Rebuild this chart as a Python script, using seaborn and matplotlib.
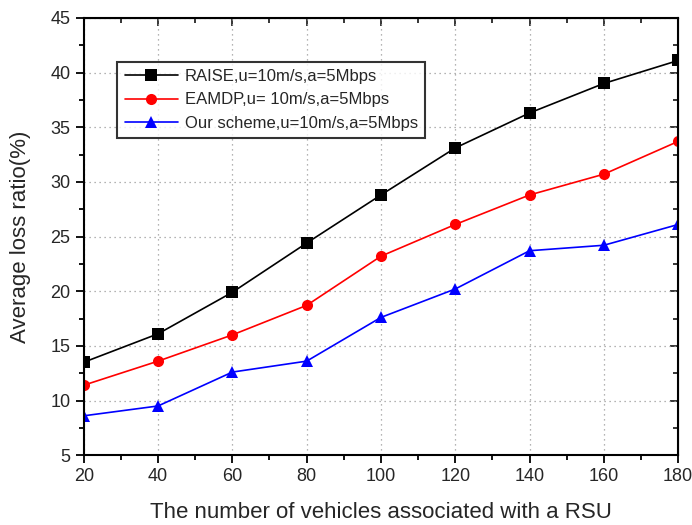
import matplotlib
matplotlib.use("Agg")
import matplotlib.pyplot as plt
from matplotlib.ticker import MultipleLocator
import seaborn as sns
import pandas as pd

vehicles = [20, 40, 60, 80, 100, 120, 140, 160, 180]
raise_loss = [13.5, 16.1, 19.9, 24.4, 28.8, 33.1, 36.3, 39.0, 41.1]
eamdp_loss = [11.4, 13.6, 16.0, 18.7, 23.2, 26.1, 28.8, 30.7, 33.7]
ours_loss = [8.6, 9.5, 12.6, 13.6, 17.6, 20.2, 23.7, 24.2, 26.1]

labels = ["RAISE,u=10m/s,a=5Mbps",
          "EAMDP,u= 10m/s,a=5Mbps",
          "Our scheme,u=10m/s,a=5Mbps"]
colors = ["#000000", "#ff0000", "#0000ff"]
markers = ["s", "o", "^"]

df = pd.concat([
    pd.DataFrame({"x": vehicles, "y": vals, "scheme": lab})
    for vals, lab in zip([raise_loss, eamdp_loss, ours_loss], labels)
])

sns.set_style("ticks")
plt.rcParams["font.family"] = ["Liberation Sans", "DejaVu Sans"]

fig = plt.figure(figsize=(6.92, 5.25), dpi=100)
ax = fig.add_axes([0.121, 0.133, 0.859, 0.833])

sns.lineplot(data=df, x="x", y="y", hue="scheme", style="scheme",
             palette=dict(zip(labels, colors)),
             markers=dict(zip(labels, markers)),
             dashes=False, markersize=8, linewidth=1.2,
             markeredgewidth=0, ax=ax)

ax.set_xlim(20, 180)
ax.set_ylim(5, 45)
ax.xaxis.set_major_locator(MultipleLocator(20))
ax.xaxis.set_minor_locator(MultipleLocator(10))
ax.yaxis.set_major_locator(MultipleLocator(5))
ax.yaxis.set_minor_locator(MultipleLocator(2.5))

ax.grid(True, which="major", color="#9a9a9a", linestyle=(0, (1, 3)), linewidth=0.9)
ax.set_axisbelow(True)

for sp in ax.spines.values():
    sp.set_visible(True)
    sp.set_linewidth(1.5)
    sp.set_color("black")

ax.tick_params(which="both", direction="out", top=False, right=False,
               labelsize=13, width=1.3, color="black")
ax.tick_params(which="major", length=6)
ax.tick_params(which="minor", length=3.5)

# inward ticks on the top and right edges
ax_top = ax.secondary_xaxis("top")
ax_top.xaxis.set_major_locator(MultipleLocator(20))
ax_top.xaxis.set_minor_locator(MultipleLocator(10))
ax_top.tick_params(which="both", direction="in", labeltop=False, width=1.3)
ax_top.tick_params(which="major", length=6)
ax_top.tick_params(which="minor", length=3.5)
ax_right = ax.secondary_yaxis("right")
ax_right.yaxis.set_major_locator(MultipleLocator(5))
ax_right.yaxis.set_minor_locator(MultipleLocator(2.5))
ax_right.tick_params(which="both", direction="in", labelright=False, width=1.3)
ax_right.tick_params(which="major", length=6)
ax_right.tick_params(which="minor", length=3.5)

ax.set_xlabel("The number of vehicles associated with a RSU", fontsize=16, labelpad=12)
ax.set_ylabel("Average loss ratio(%)", fontsize=16, labelpad=14)

leg = ax.legend(loc="upper left", bbox_to_anchor=(0.056, 0.90), fontsize=12,
                frameon=True, fancybox=False, edgecolor="black",
                handlelength=3.2, borderpad=0.45, labelspacing=0.5,
                handletextpad=0.4, borderaxespad=0)
leg.get_frame().set_linewidth(1.5)
leg.set_title(None)

fig.savefig("out.png", dpi=100)
